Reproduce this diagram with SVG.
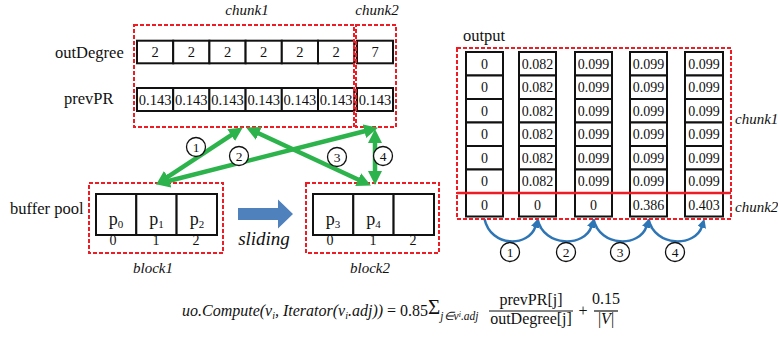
<svg xmlns="http://www.w3.org/2000/svg" width="778" height="337" viewBox="0 0 778 337" font-family="'Liberation Serif','Times New Roman',serif">
<style>
text{font-family:"Liberation Serif","Times New Roman",serif;fill:#111}
.lbl{font-size:16.5px}
.it{font-style:italic;font-size:15px}
.cv{font-size:14.5px;text-anchor:middle}
.ov{font-size:14px;text-anchor:middle}
.cell{fill:#fff;stroke:#111;stroke-width:2}
.red{fill:none;stroke:#ee1c24;stroke-width:2;stroke-dasharray:4 2}
.g{stroke:#2db34b;stroke-width:4.5;fill:none}
.b{stroke:#2e75b6;stroke-width:2.5;fill:none}
.circ{fill:#fff;stroke:#111;stroke-width:1.3}
.cn{font-size:13.5px;text-anchor:middle}
.f{font-size:16px}
</style>
<defs>
<marker id="ga" markerUnits="userSpaceOnUse" markerWidth="15" markerHeight="15" refX="1" refY="7" orient="auto-start-reverse">
<path d="M0,0 L14,7 L0,14 z" fill="#2db34b"/>
</marker>
<marker id="ba" markerUnits="userSpaceOnUse" markerWidth="10" markerHeight="10" refX="1" refY="4.5" orient="auto">
<path d="M0,0 L9,4.5 L0,9 z" fill="#2e75b6"/>
</marker>
</defs>

<g id="labels-left">
<text class="lbl" x="55" y="58">outDegree</text>
<text class="lbl" x="64" y="104">prevPR</text>
<text class="lbl" x="10" y="214">buffer pool</text>
<text class="it" x="247" y="15" text-anchor="middle">chunk1</text>
<text class="it" x="377" y="15" text-anchor="middle">chunk2</text>
</g>

<g id="outDegree">
<rect class="cell" x="137" y="40.7" width="36.2" height="22.6"/>
<rect class="cell" x="173.2" y="40.7" width="36.2" height="22.6"/>
<rect class="cell" x="209.4" y="40.7" width="36.2" height="22.6"/>
<rect class="cell" x="245.6" y="40.7" width="36.2" height="22.6"/>
<rect class="cell" x="281.8" y="40.7" width="36.2" height="22.6"/>
<rect class="cell" x="318" y="40.7" width="36.2" height="22.6"/>
<rect class="cell" x="357" y="40.7" width="36" height="22.6"/>
<text class="cv" x="155.1" y="57">2</text>
<text class="cv" x="191.3" y="57">2</text>
<text class="cv" x="227.5" y="57">2</text>
<text class="cv" x="263.7" y="57">2</text>
<text class="cv" x="299.9" y="57">2</text>
<text class="cv" x="336.1" y="57">2</text>
<text class="cv" x="375" y="57">7</text>
</g>

<g id="prevPR">
<rect class="cell" x="137" y="88" width="36.2" height="23"/>
<rect class="cell" x="173.2" y="88" width="36.2" height="23"/>
<rect class="cell" x="209.4" y="88" width="36.2" height="23"/>
<rect class="cell" x="245.6" y="88" width="36.2" height="23"/>
<rect class="cell" x="281.8" y="88" width="36.2" height="23"/>
<rect class="cell" x="318" y="88" width="36.2" height="23"/>
<rect class="cell" x="357" y="88" width="36" height="23"/>
<text class="cv" x="155.1" y="104.5">0.143</text>
<text class="cv" x="191.3" y="104.5">0.143</text>
<text class="cv" x="227.5" y="104.5">0.143</text>
<text class="cv" x="263.7" y="104.5">0.143</text>
<text class="cv" x="299.9" y="104.5">0.143</text>
<text class="cv" x="336.1" y="104.5">0.143</text>
<text class="cv" x="375" y="104.5">0.143</text>
</g>

<g id="chunk1">
<rect class="red" x="134" y="25" width="220" height="102"/>
</g>
<g id="chunk2">
<rect class="red" x="356" y="25" width="40" height="102"/>
</g>

<g id="block1">
<rect class="red" x="89" y="183" width="134" height="70"/>
<rect class="cell" x="96" y="194" width="40.3" height="41"/>
<rect class="cell" x="136.3" y="194" width="40.3" height="41"/>
<rect class="cell" x="176.6" y="194" width="40.4" height="41"/>
<text x="116" y="225" font-size="18" text-anchor="middle">p<tspan font-size="11" dy="3">0</tspan></text>
<text x="156.5" y="225" font-size="18" text-anchor="middle">p<tspan font-size="11" dy="3">1</tspan></text>
<text x="197" y="225" font-size="18" text-anchor="middle">p<tspan font-size="11" dy="3">2</tspan></text>
<text class="ov" x="113" y="245">0</text>
<text class="ov" x="156" y="245">1</text>
<text class="ov" x="196" y="245">2</text>
<text class="it" x="153" y="273" text-anchor="middle">block1</text>
</g>

<g id="block2">
<rect class="red" x="306" y="183" width="133" height="70"/>
<rect class="cell" x="313" y="194" width="40.3" height="41"/>
<rect class="cell" x="353.3" y="194" width="40.3" height="41"/>
<rect class="cell" x="393.6" y="194" width="40.4" height="41"/>
<text x="333" y="225" font-size="18" text-anchor="middle">p<tspan font-size="11" dy="3">3</tspan></text>
<text x="373.5" y="225" font-size="18" text-anchor="middle">p<tspan font-size="11" dy="3">4</tspan></text>
<text class="ov" x="330" y="245">0</text>
<text class="ov" x="373" y="245">1</text>
<text class="ov" x="413" y="245">2</text>
<text class="it" x="370" y="273" text-anchor="middle">block2</text>
</g>

<g id="sliding">
<polygon points="238,208 278,208 278,199.5 293,214 278,228.5 278,220 238,220" fill="#4f81bd"/>
<text x="264" y="245" font-size="19" font-style="italic" text-anchor="middle">sliding</text>
</g>

<g id="connectors">
<line class="g" x1="167" y1="177.4" x2="232" y2="134.6" marker-start="url(#ga)" marker-end="url(#ga)"/>
<line class="g" x1="168.6" y1="181" x2="365.4" y2="131" marker-start="url(#ga)" marker-end="url(#ga)"/>
<line class="g" x1="257.9" y1="133" x2="359.1" y2="180" marker-start="url(#ga)" marker-end="url(#ga)"/>
<line class="g" x1="375" y1="142" x2="375" y2="172" marker-start="url(#ga)" marker-end="url(#ga)"/>
<circle class="circ" cx="196" cy="147" r="9.5"/>
<text class="cn" x="196" y="151.5">1</text>
<circle class="circ" cx="239" cy="156" r="9.5"/>
<text class="cn" x="239" y="160.5">2</text>
<circle class="circ" cx="337" cy="157" r="9.5"/>
<text class="cn" x="337" y="161.5">3</text>
<circle class="circ" cx="383" cy="156" r="9.5"/>
<text class="cn" x="383" y="160.5">4</text>

<path class="b" d="M484.5,219 C491,248 529,247 535.5,226.4" marker-end="url(#ba)"/>
<path class="b" d="M537.5,219 C544,248 585,247 591.5,226.4" marker-end="url(#ba)"/>
<path class="b" d="M593.5,219 C600,248 640,247 646.5,226.4" marker-end="url(#ba)"/>
<path class="b" d="M648.5,219 C655,248 695.5,247 702,226.4" marker-end="url(#ba)"/>
<circle class="circ" cx="510" cy="252" r="9.5"/>
<text class="cn" x="510" y="256.5">1</text>
<circle class="circ" cx="566" cy="252" r="9.5"/>
<text class="cn" x="566" y="256.5">2</text>
<circle class="circ" cx="620" cy="252" r="9.5"/>
<text class="cn" x="620" y="256.5">3</text>
<circle class="circ" cx="675" cy="252" r="9.5"/>
<text class="cn" x="675" y="256.5">4</text>
</g>

<g id="output">
<text class="lbl" x="463" y="41">output</text>
<g id="out-col0">
<rect class="cell" x="466" y="52" width="37" height="23.5"/>
<rect class="cell" x="466" y="75.5" width="37" height="23.5"/>
<rect class="cell" x="466" y="99" width="37" height="23.5"/>
<rect class="cell" x="466" y="122.5" width="37" height="23.5"/>
<rect class="cell" x="466" y="146" width="37" height="23.5"/>
<rect class="cell" x="466" y="169.5" width="37" height="23.5"/>
<rect class="cell" x="466" y="193" width="37" height="23.5"/>
<text class="ov" x="484.5" y="68.8">0</text>
<text class="ov" x="484.5" y="92.3">0</text>
<text class="ov" x="484.5" y="115.8">0</text>
<text class="ov" x="484.5" y="139.3">0</text>
<text class="ov" x="484.5" y="162.8">0</text>
<text class="ov" x="484.5" y="186.3">0</text>
<text class="ov" x="484.5" y="209.8">0</text>
</g>
<g id="out-col1">
<rect class="cell" x="519" y="52" width="37" height="23.5"/>
<rect class="cell" x="519" y="75.5" width="37" height="23.5"/>
<rect class="cell" x="519" y="99" width="37" height="23.5"/>
<rect class="cell" x="519" y="122.5" width="37" height="23.5"/>
<rect class="cell" x="519" y="146" width="37" height="23.5"/>
<rect class="cell" x="519" y="169.5" width="37" height="23.5"/>
<rect class="cell" x="519" y="193" width="37" height="23.5"/>
<text class="ov" x="537.5" y="68.8">0.082</text>
<text class="ov" x="537.5" y="92.3">0.082</text>
<text class="ov" x="537.5" y="115.8">0.082</text>
<text class="ov" x="537.5" y="139.3">0.082</text>
<text class="ov" x="537.5" y="162.8">0.082</text>
<text class="ov" x="537.5" y="186.3">0.082</text>
<text class="ov" x="537.5" y="209.8">0</text>
</g>
<g id="out-col2">
<rect class="cell" x="575" y="52" width="37" height="23.5"/>
<rect class="cell" x="575" y="75.5" width="37" height="23.5"/>
<rect class="cell" x="575" y="99" width="37" height="23.5"/>
<rect class="cell" x="575" y="122.5" width="37" height="23.5"/>
<rect class="cell" x="575" y="146" width="37" height="23.5"/>
<rect class="cell" x="575" y="169.5" width="37" height="23.5"/>
<rect class="cell" x="575" y="193" width="37" height="23.5"/>
<text class="ov" x="593.5" y="68.8">0.099</text>
<text class="ov" x="593.5" y="92.3">0.099</text>
<text class="ov" x="593.5" y="115.8">0.099</text>
<text class="ov" x="593.5" y="139.3">0.099</text>
<text class="ov" x="593.5" y="162.8">0.099</text>
<text class="ov" x="593.5" y="186.3">0.099</text>
<text class="ov" x="593.5" y="209.8">0</text>
</g>
<g id="out-col3">
<rect class="cell" x="630" y="52" width="37" height="23.5"/>
<rect class="cell" x="630" y="75.5" width="37" height="23.5"/>
<rect class="cell" x="630" y="99" width="37" height="23.5"/>
<rect class="cell" x="630" y="122.5" width="37" height="23.5"/>
<rect class="cell" x="630" y="146" width="37" height="23.5"/>
<rect class="cell" x="630" y="169.5" width="37" height="23.5"/>
<rect class="cell" x="630" y="193" width="37" height="23.5"/>
<text class="ov" x="648.5" y="68.8">0.099</text>
<text class="ov" x="648.5" y="92.3">0.099</text>
<text class="ov" x="648.5" y="115.8">0.099</text>
<text class="ov" x="648.5" y="139.3">0.099</text>
<text class="ov" x="648.5" y="162.8">0.099</text>
<text class="ov" x="648.5" y="186.3">0.099</text>
<text class="ov" x="648.5" y="209.8">0.386</text>
</g>
<g id="out-col4">
<rect class="cell" x="685" y="52" width="38" height="23.5"/>
<rect class="cell" x="685" y="75.5" width="38" height="23.5"/>
<rect class="cell" x="685" y="99" width="38" height="23.5"/>
<rect class="cell" x="685" y="122.5" width="38" height="23.5"/>
<rect class="cell" x="685" y="146" width="38" height="23.5"/>
<rect class="cell" x="685" y="169.5" width="38" height="23.5"/>
<rect class="cell" x="685" y="193" width="38" height="23.5"/>
<text class="ov" x="704" y="68.8">0.099</text>
<text class="ov" x="704" y="92.3">0.099</text>
<text class="ov" x="704" y="115.8">0.099</text>
<text class="ov" x="704" y="139.3">0.099</text>
<text class="ov" x="704" y="162.8">0.099</text>
<text class="ov" x="704" y="186.3">0.099</text>
<text class="ov" x="704" y="209.8">0.403</text>
</g>
</g>
<g id="out-chunk1">
<rect class="red" x="457" y="48" width="274" height="145"/>
<text class="it" x="735" y="124">chunk1</text>
</g>
<g id="out-chunk2">
<rect class="red" x="457" y="193" width="274" height="26"/>
<line x1="457" y1="193" x2="731" y2="193" stroke="#ee1c24" stroke-width="2.5"/>
<text class="it" x="735" y="212">chunk2</text>
</g>

<g id="formula">
<text class="f" x="182" y="316"><tspan font-style="italic">uo.Compute(v</tspan><tspan font-style="italic" font-size="10" dy="3">i</tspan><tspan font-style="italic" dy="-3">, Iterator(v</tspan><tspan font-style="italic" font-size="10" dy="3">i</tspan><tspan font-style="italic" dy="-3">.adj))</tspan><tspan> = 0.85</tspan><tspan font-size="21" dy="-2">Σ</tspan><tspan font-size="11.5" font-style="italic" dy="6">j∈v</tspan><tspan font-size="8" font-style="italic" dy="-3">i</tspan><tspan font-size="11.5" font-style="italic" dy="3">.adj</tspan></text>
<text class="f" x="531" y="305" text-anchor="middle">prevPR[j]</text>
<line x1="489" y1="311" x2="573" y2="311" stroke="#111" stroke-width="1.2"/>
<text class="f" x="531" y="324" text-anchor="middle">outDegree[j]</text>
<text class="f" x="583" y="316" text-anchor="middle">+</text>
<text class="f" x="606" y="304" text-anchor="middle">0.15</text>
<line x1="594" y1="311" x2="618" y2="311" stroke="#111" stroke-width="1.2"/>
<text class="f" x="606" y="324" text-anchor="middle">|<tspan font-style="italic">V</tspan>|</text>
</g>
</svg>
